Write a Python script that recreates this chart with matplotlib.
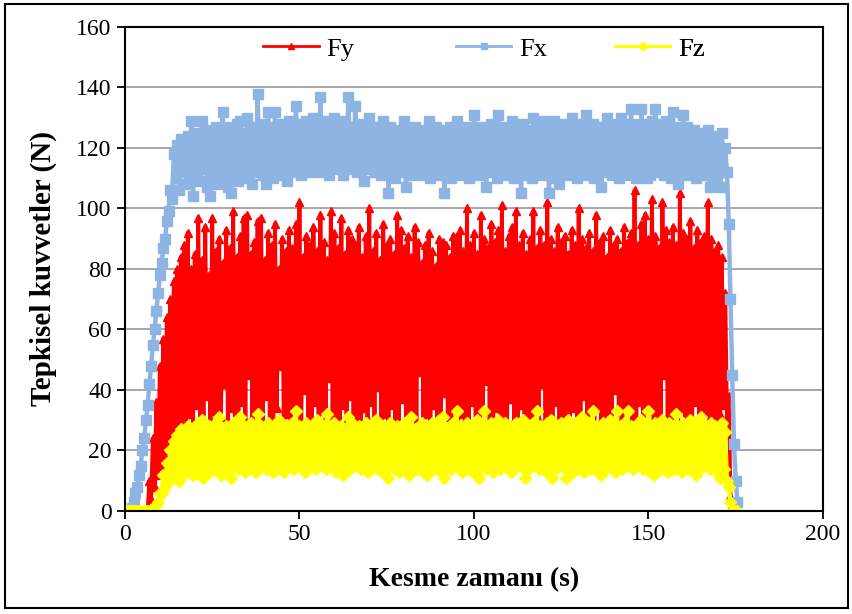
# Tepkisel kuvvetler - Fy, Fx, Fz vs kesme zamani
import numpy as np
import matplotlib
matplotlib.use("Agg")
import matplotlib.pyplot as plt
from matplotlib.patches import Rectangle
from matplotlib.lines import Line2D

plt.rcParams['font.family'] = ['Liberation Serif', 'DejaVu Serif']

# values, every 0.5 s
# "hi" = samples at t = 0, 1, 2, ... ; "lo" = samples at t = 0.5, 1.5, ...
fy_hi = [0, 0, 0, 0, 0, 0, 0, 10, 24, 36, 48, 57, 64, 70, 76, 80, 84,
         88, 92, 80, 85, 97, 83, 94, 78, 97, 86,
         90, 82, 93, 87, 99, 84, 91, 97, 98, 85,
         89, 96, 97, 83, 92, 88, 95, 80, 90, 86,
         93, 87, 95, 102, 84, 91, 88, 94, 86, 98,
         89, 83, 99, 92, 87, 97, 85, 93, 90, 88,
         94, 84, 91, 100, 86, 92, 83, 95, 88, 90,
         85, 98, 93, 87, 91, 84, 94, 89, 82, 88,
         92, 86, 81, 90, 89, 88, 84, 91, 91, 93,
         86, 100, 88, 92, 85, 98, 90, 87, 95, 89,
         93, 101, 86, 91, 94, 99, 88, 92, 85, 90,
         99, 87, 93, 88, 102, 90, 86, 94, 89, 91,
         85, 93, 88, 100, 90, 87, 92, 86, 98, 89,
         91, 84, 93, 88, 90, 86, 94, 89, 92, 106,
         88, 95, 98, 90, 103, 91, 87, 102, 93, 89,
         94, 88, 105, 92, 90, 96, 87, 93, 89, 91,
         102, 90, 86, 88, 84,
         72, 38, 2, 0]
fy_lo = [0, 0, 0, 0, 0, 0, 0, 4, 8, 12, 15, 18, 20, 22, 24, 26, 27,
         28, 32, 27, 35, 30, 26, 38, 29, 33, 27,
         31, 42, 28, 34, 26, 30, 36, 28, 45, 31,
         27, 33, 29, 38, 30, 26, 34, 48, 29, 32,
         28, 35, 30, 27, 40, 31, 29, 36, 27, 33,
         30, 44, 28, 32, 27, 35, 30, 38, 29, 31,
         27, 34, 30, 36, 28, 41, 29, 32, 27, 35,
         30, 28, 37, 31, 29, 33, 27, 46, 30, 32,
         28, 35, 30, 27, 39, 31, 29, 34, 28, 32,
         30, 27, 36, 29, 33, 28, 43, 30, 27, 34,
         29, 32, 28, 37, 30, 27, 35, 29, 31, 28,
         33, 30, 42, 28, 31, 27, 36, 29, 32, 30,
         28, 34, 30, 27, 38, 29, 31, 28, 35, 30,
         27, 33, 29, 40, 30, 28, 34, 27, 31, 29,
         36, 28, 30, 33, 27, 31, 29, 45, 28, 32,
         30, 27, 34, 29, 31, 28, 36, 30, 27, 33,
         29, 31, 28, 32, 35,
         30, 5, 0, 0]

fx_hi = [0, 0, 1, 6, 12, 20, 30, 42, 55, 66, 78, 87, 96, 106,
         118, 121, 123, 120, 124, 129, 122, 125, 129, 123,
         126, 124, 127, 125, 132, 124, 127, 126, 128, 129,
         125, 130, 127, 126, 138, 128, 125, 132, 127, 132,
         126, 128, 125, 129, 127, 134, 128, 126, 129, 127,
         130, 128, 137, 127, 129, 126, 130, 128, 127, 129,
         137, 127, 134, 128, 126, 127, 130, 125, 127, 126,
         129, 125, 127, 124, 126, 125, 129, 126, 124, 127,
         125, 126, 124, 129, 125, 127, 124, 126, 125, 127,
         125, 129, 126, 124, 127, 125, 131, 126, 127, 125,
         126, 128, 125, 131, 127, 125, 126, 129, 127, 125,
         128, 126, 125, 130, 127, 126, 129, 125, 127, 129,
         126, 128, 127, 125, 130, 127, 128, 126, 131, 127,
         128, 126, 127, 125, 130, 127, 128, 126, 130, 128,
         127, 133, 128, 126, 133, 128, 127, 129, 133, 128,
         127, 129, 128, 132, 127, 126, 131, 127, 125, 126,
         124, 125, 123, 126, 124, 122, 123, 125,
         120, 95, 45, 10]
fx_lo = [0, 0, 3, 8, 15, 24, 35, 48, 60, 72, 82, 90, 99, 103,
         110, 106, 112, 108, 110, 104, 111, 109, 113, 107,
         104, 111, 108, 113, 110, 107, 105, 112, 109, 111,
         113, 110, 108, 112, 114, 111, 108, 113, 110, 112,
         114, 111, 109, 113, 112, 115, 111, 114, 112, 113,
         115, 112, 114, 113, 111, 116, 113, 114, 111, 115,
         113, 116, 112, 114, 109, 113, 115, 112, 114, 111,
         113, 105, 112, 110, 114, 112, 107, 113, 111, 112,
         114, 111, 113, 110, 112, 114, 111, 105, 113, 110,
         112, 114, 111, 113, 110, 112, 114, 111, 113, 107,
         112, 114, 110, 113, 111, 114, 112, 110, 113, 105,
         111, 113, 110, 112, 114, 111, 113, 105, 112, 110,
         108, 113, 111, 114, 112, 110, 113, 111, 114, 112,
         110, 113, 107, 112, 114, 111, 113, 110, 112, 114,
         111, 113, 110, 112, 114, 110, 111, 113, 112, 114,
         111, 113, 110, 112, 108, 113, 111, 114, 112, 110,
         113, 111, 112, 107, 111, 110, 107, 112,
         112, 70, 22, 3]

fz_hi = [0, 0, 0, 0, 0, 0, 0, 0, 0, 2, 6, 12, 16, 20, 23, 25, 27,
         26, 28, 25, 27, 29, 30, 26, 28, 27, 29,
         31, 27, 28, 26, 29, 27, 31, 28, 26, 29,
         27, 32, 28, 26, 29, 27, 28, 30, 26, 28,
         27, 29, 33, 28, 26, 29, 27, 28, 30, 27,
         28, 32, 27, 29, 26, 28, 27, 31, 29, 27,
         28, 26, 29, 27, 28, 30, 26, 28, 27, 29,
         26, 28, 27, 29, 28, 31, 27, 26, 29, 28,
         27, 29, 28, 30, 31, 27, 28, 29, 33, 28,
         27, 29, 28, 26, 30, 28, 33, 27, 29, 28,
         30, 27, 29, 28, 26, 29, 28, 30, 27, 28,
         29, 33, 28, 27, 29, 30, 28, 27, 29, 28,
         30, 27, 29, 28, 31, 27, 29, 33, 28, 27,
         29, 28, 30, 27, 33, 28, 29, 33, 28, 27,
         29, 30, 28, 33, 27, 29, 28, 30, 27, 29,
         28, 32, 27, 29, 28, 30, 27, 29, 31, 28,
         27, 29, 28, 27, 29,
         26, 8, 0, 0]
fz_lo = [0, 0, 0, 0, 0, 0, 0, 0, 0, 3, 6, 8, 10, 11, 11, 10, 12,
         13, 15, 12, 16, 14, 11, 15, 13, 16, 14,
         12, 15, 13, 11, 16, 14, 15, 13, 16, 14,
         13, 16, 15, 14, 17, 13, 16, 15, 13, 16,
         15, 14, 16, 15, 13, 16, 17, 14, 15, 16,
         14, 16, 15, 13, 16, 12, 15, 14, 16, 15,
         14, 16, 13, 15, 16, 14, 15, 12, 11, 15,
         14, 13, 16, 15, 12, 15, 14, 16, 13, 12,
         15, 14, 16, 13, 11, 15, 14, 16, 15, 13,
         15, 14, 16, 12, 11, 15, 14, 16, 13, 15,
         14, 16, 15, 13, 14, 16, 15, 11, 14, 16,
         15, 14, 16, 13, 15, 11, 14, 16, 15, 11,
         12, 15, 14, 16, 13, 15, 14, 16, 13, 12,
         14, 16, 15, 13, 16, 14, 15, 16, 14, 15,
         16, 14, 15, 13, 12, 16, 14, 15, 13, 16,
         14, 15, 13, 16, 14, 15, 12, 14, 16, 15,
         14, 16, 13, 11, 14,
         10, 3, 0, 0]

labels = ['Fy', 'Fx', 'Fz']
colors = ['#ff0000', '#8eb4e3', '#ffff00']
markers = ['^', 's', 'D']


def merge(hi, lo):
    v = np.column_stack([hi, lo]).ravel()
    t = np.arange(len(v)) * 0.5
    return t, v


fig = plt.figure(figsize=(8.53, 6.14), dpi=100)
ax = fig.add_axes([0.1465, 0.1678, 0.8183, 0.7883])

series = [merge(fy_hi, fy_lo), merge(fx_hi, fx_lo), merge(fz_hi, fz_lo)]
msize = [6, 7, 6.5]
lwidth = [2.8, 3.2, 3.0]
for (t, v), c, m, ms, lw in zip(series, colors, markers, msize, lwidth):
    ax.plot(t, v, color=c, marker=m, markersize=ms, lw=lw, mec=c)

ax.set_xlim(0, 200)
ax.set_ylim(0, 160)
ax.set_xticks(range(0, 201, 50))
ax.set_yticks(range(0, 161, 20))
ax.grid(True, axis='y', color='#a0a0a0', lw=1.3)
ax.set_axisbelow(True)
ax.tick_params(direction='out', length=6, width=1.3, labelsize=17, colors='black')
for s in ax.spines.values():
    s.set_linewidth(1.5)
    s.set_zorder(5)

ax.set_xlabel('Kesme zamanı (s)', fontsize=20, fontweight='bold', labelpad=16)
ax.set_ylabel('Tepkisel kuvvetler (N)', fontsize=21, fontweight='bold', labelpad=14)

# legend entries, placed one by one like the original
leg_x = [0.198, 0.474, 0.702]
leg_ms = [4, 5, 4]
for lab, c, m, x, ms in zip(labels, colors, markers, leg_x, leg_ms):
    h = Line2D([], [], color=c, marker=m, markersize=ms, lw=2)
    lg = ax.legend([h], [lab], loc='center left', bbox_to_anchor=(x, 0.9545),
                   frameon=False, fontsize=19, handlelength=2.1,
                   handletextpad=0.3, borderpad=0, borderaxespad=0)
    ax.add_artist(lg)

fig.patches.append(Rectangle((0.006, 0.01), 0.988, 0.983, transform=fig.transFigure,
                             fill=False, edgecolor='black', lw=1.5))

fig.savefig('out.png', dpi=100)
